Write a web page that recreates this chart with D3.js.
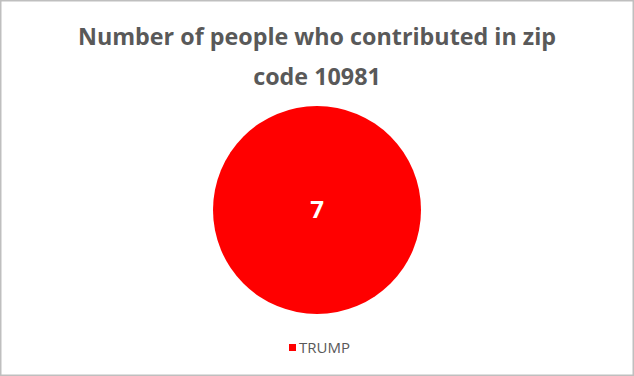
<!DOCTYPE html>
<html>
<head>
<meta charset="utf-8">
<script src="https://cdn.jsdelivr.net/npm/d3@7"></script>
<style>
  body { margin: 0; background: #fff; }
  svg { display: block; font-family: "Open Sans", sans-serif; }
</style>
</head>
<body>
<div id="chart"></div>
<script>
const titleLines = ["Number of people who contributed in zip", "code 10981"];
const categories = ["TRUMP"];
const values = [7];
const colors = ["#ff0000"];

const width = 634, height = 376;
const svg = d3.select("#chart").append("svg")
  .attr("width", width)
  .attr("height", height);

// outer border
svg.append("rect")
  .attr("x", 0.75).attr("y", 0.75)
  .attr("width", width - 1.5).attr("height", height - 1.5)
  .attr("fill", "#fff")
  .attr("stroke", "#bfbfbf")
  .attr("stroke-width", 1.5);

// title
const title = svg.append("text")
  .attr("text-anchor", "middle")
  .attr("fill", "#595959")
  .style("font-size", "23.3px")
  .style("font-weight", "bold");
title.selectAll("tspan")
  .data(titleLines)
  .join("tspan")
  .attr("x", width / 2)
  .attr("y", (d, i) => 45 + i * 40)
  .text(d => d);

// pie
const cx = 317, cy = 210, r = 104;
const pie = d3.pie().sort(null)(values);
const arc = d3.arc().innerRadius(0).outerRadius(r);
const g = svg.append("g").attr("transform", `translate(${cx},${cy})`);

g.selectAll("path")
  .data(pie)
  .join("path")
  .attr("d", arc)
  .attr("fill", (d, i) => colors[i]);

g.selectAll("text.lbl")
  .data(pie)
  .join("text")
  .attr("class", "lbl")
  .attr("transform", d => values.length > 1 ? `translate(${arc.centroid(d)})` : "translate(0,0)")
  .attr("text-anchor", "middle")
  .attr("dy", "0.35em")
  .attr("fill", "#fff")
  .style("font-size", "24px")
  .style("font-weight", "bold")
  .text(d => d.data);

// legend
const legend = svg.append("g").attr("transform", "translate(289,344)");
const items = legend.selectAll("g")
  .data(categories)
  .join("g");
items.append("rect")
  .attr("width", 7).attr("height", 7)
  .attr("fill", (d, i) => colors[i]);
items.append("text")
  .attr("x", 10).attr("y", 8.5)
  .attr("fill", "#595959")
  .style("font-size", "15px")
  .text(d => d);
</script>
</body>
</html>
